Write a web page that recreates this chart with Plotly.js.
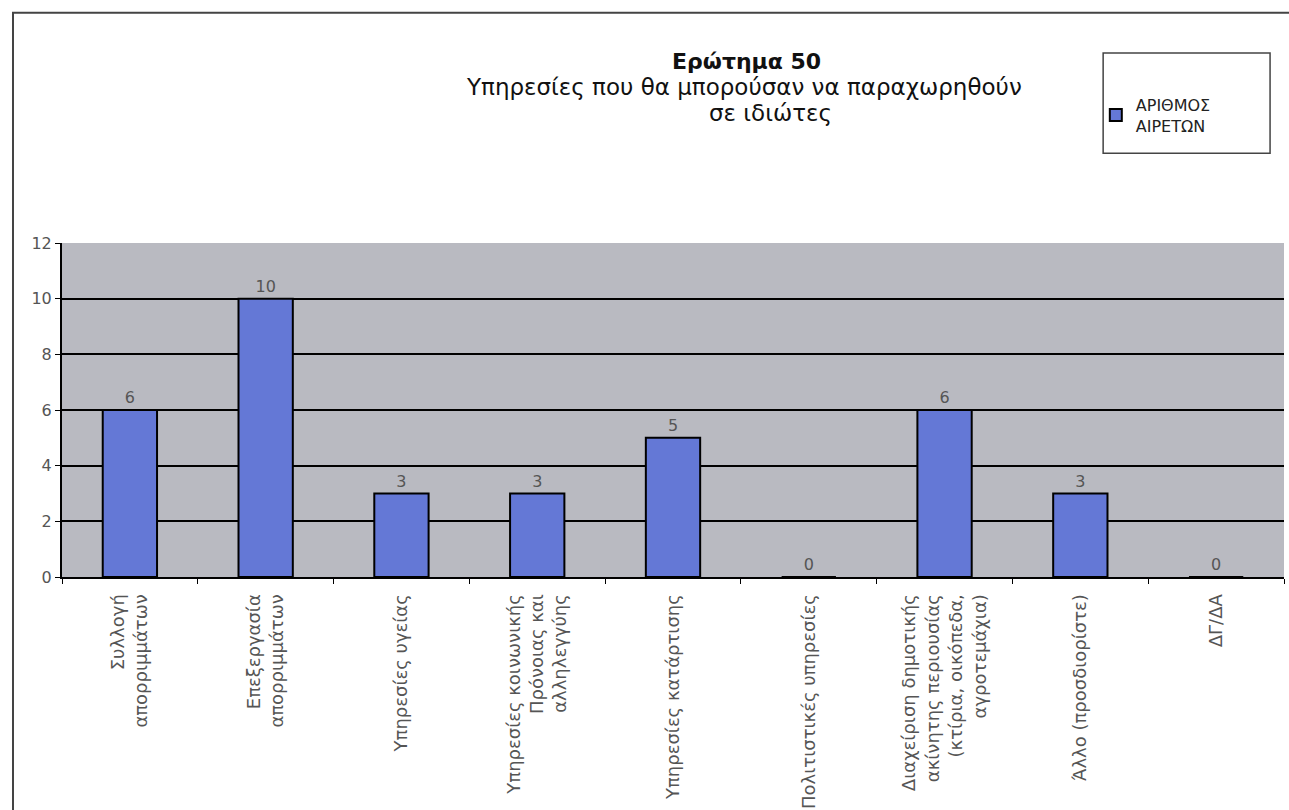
<!DOCTYPE html>
<html>
<head>
<meta charset="utf-8">
<script src="https://cdn.plot.ly/plotly-3.0.1.min.js"></script>
<style>html,body{margin:0;padding:0;background:#fff;}#chart{width:1289px;height:810px;}</style>
</head>
<body>
<div id="chart"></div>
<script>
const categories = [
  "Συλλογή<br>απορριμμάτων",
  "Επεξεργασία<br>απορριμμάτων",
  "Υπηρεσίες υγείας",
  "Υπηρεσίες κοινωνικής<br>Πρόνοιας και<br>αλληλεγγύης",
  "Υπηρεσίες κατάρτισης",
  "Πολιτιστικές υπηρεσίες",
  "Διαχείριση δημοτικής<br>ακίνητης περιουσίας<br>(κτίρια, οικόπεδα,<br>αγροτεμάχια)",
  "Άλλο (προσδιορίστε)",
  "ΔΓ/ΔΑ"
];
const values = [6, 10, 3, 3, 5, 0, 6, 3, 0];
const seriesName = "ΑΡΙΘΜΟΣ<br>ΑΙΡΕΤΩΝ";
const yTicks = [0, 2, 4, 6, 8, 10, 12];
const titleLines = ["<b>Ερώτημα 50</b>", "Υπηρεσίες που θα μπορούσαν να παραχωρηθούν", "σε ιδιώτες"];

const font = "DejaVu Sans, Verdana, sans-serif";

const trace = {
  type: "bar",
  x: categories,
  y: values,
  name: seriesName,
  width: 0.4,
  marker: {color: "#6478d6", line: {color: "#000", width: 2}},
  text: values.map(String),
  textposition: "outside",
  cliponaxis: false,
  textfont: {family: font, size: 16, color: "#555"},
  showlegend: true
};

const titleX = [0.560, 0.558, 0.580];
const titleY = [1.542, 1.467, 1.389];
const titleSize = [22, 23, 23];

const layout = {
  width: 1289, height: 810,
  margin: {l: 62, r: 5, t: 243, b: 233},
  paper_bgcolor: "#fff",
  plot_bgcolor: "#b9bac1",
  font: {family: font, color: "#333"},
  showlegend: true,
  legend: {
    x: 0.846, y: 1.383, xanchor: "left", yanchor: "middle",
    bgcolor: "rgba(0,0,0,0)", borderwidth: 0,
    font: {family: font, size: 16, color: "#222"},
    itemwidth: 30
  },
  xaxis: {
    type: "category",
    tickangle: -90,
    tickfont: {family: font, size: 18, color: "#555"},
    ticklabelstandoff: 8,
    showline: true, linecolor: "#000", linewidth: 2,
    ticks: "outside", tickson: "boundaries", ticklen: 5, tickcolor: "#000",
    showgrid: false,
    fixedrange: true
  },
  yaxis: {
    range: [0, 12],
    tickvals: yTicks,
    tickfont: {family: font, size: 16, color: "#555"},
    showline: true, linecolor: "#000", linewidth: 2,
    ticks: "outside", ticklen: 5, tickcolor: "#000",
    showgrid: true, gridcolor: "#000", gridwidth: 2,
    zeroline: false,
    fixedrange: true
  },
  annotations: titleLines.map((t, i) => ({
    text: t,
    xref: "paper", yref: "paper",
    x: titleX[i], y: titleY[i], xanchor: "center", yanchor: "middle",
    showarrow: false,
    font: {family: font, size: titleSize[i], color: "#111"}
  })),
  shapes: [
    {type: "rect", xref: "paper", yref: "paper",
     x0: -0.0401, x1: 1.05, y0: -0.75, y1: 1.689,
     line: {color: "#444", width: 2}, fillcolor: "rgba(0,0,0,0)", layer: "below"},
    {type: "rect", xref: "paper", yref: "paper",
     x0: 0.852, x1: 0.9886, y0: 1.269, y1: 1.569,
     line: {color: "#444", width: 1.5}, fillcolor: "#fff", layer: "below"}
  ]
};

Plotly.newPlot("chart", [trace], layout, {displayModeBar: false, staticPlot: true});
</script>
</body>
</html>
